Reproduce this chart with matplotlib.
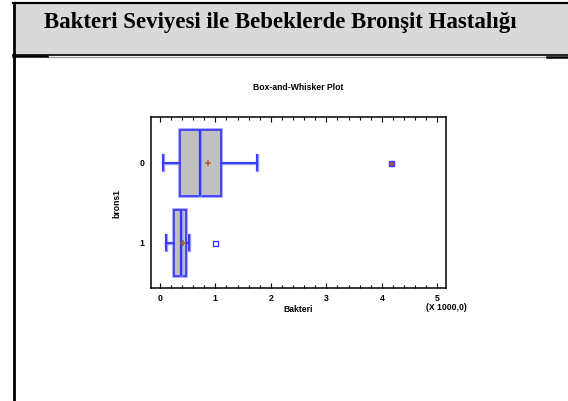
import matplotlib
matplotlib.use("Agg")
import matplotlib.pyplot as plt
from matplotlib.patches import Rectangle
from matplotlib.lines import Line2D
from matplotlib.ticker import MultipleLocator

# ---- data (Bakteri, x 1000) ----
groups = ["0", "1"]
q1 = [0.36, 0.26]
medians = [0.73, 0.38]
q3 = [1.11, 0.47]
whisker_lo = [0.06, 0.11]
whisker_hi = [1.75, 0.53]
means = [0.87, 0.42]
far_outliers = [[4.16], []]
outliers = [[], [0.99]]
x_ticks = [0, 1, 2, 3, 4, 5]

page_title = "Bakteri Seviyesi ile Bebeklerde Bronşit Hastalığı"
plot_title = "Box-and-Whisker Plot"
x_label = "Bakteri"
y_label = "brons1"
scale_note = "(X 1000,0)"

W, H = 568, 401
fig = plt.figure(figsize=(W / 100, H / 100), dpi=100)
fig.patch.set_facecolor("white")

def fx(px):
    return px / W

def fy(py):
    return 1 - py / H

# ---- slide header ----
fig.add_artist(Rectangle((fx(13), fy(55)), fx(W - 13), fy(3) - fy(55),
                         transform=fig.transFigure, facecolor="#d9d9d9",
                         edgecolor="none", zorder=0))
fig.add_artist(Line2D([fx(13), 1], [fy(3), fy(3)], transform=fig.transFigure,
                      color="black", lw=1.6))
fig.add_artist(Line2D([fx(13), 1], [fy(55), fy(55)], transform=fig.transFigure,
                      color="black", lw=1.2))
fig.add_artist(Line2D([fx(47), fx(547)], [fy(56.5), fy(56.5)], transform=fig.transFigure,
                      color="#a0a0a0", lw=1.0))
fig.add_artist(Line2D([fx(13), fx(47)], [fy(56), fy(56)], transform=fig.transFigure,
                      color="black", lw=1.8))
fig.add_artist(Line2D([fx(547), 1], [fy(56.5), fy(56.5)], transform=fig.transFigure,
                      color="black", lw=1.8))
fig.add_artist(Line2D([fx(13.5), fx(13.5)], [fy(2.5), 0], transform=fig.transFigure,
                      color="black", lw=2.0))
fig.text(fx(280), fy(22.5), page_title, ha="center", va="center",
         family="Liberation Serif", fontweight="bold", fontsize=16.5)

# ---- axes ----
ax = fig.add_axes([fx(151), fy(288), fx(446) - fx(151), fy(116.7) - fy(288)])
ax.set_xlim(-0.16, 5.155)
ax.set_ylim(1.566, -0.575)

stats = []
for i in range(len(groups)):
    stats.append(dict(label=groups[i], q1=q1[i], med=medians[i], q3=q3[i],
                      whislo=whisker_lo[i], whishi=whisker_hi[i],
                      mean=means[i], fliers=[]))

blue = "#3535ff"
halo = "#9a9aff"
# halo pass
ax.bxp(stats, positions=list(range(len(groups))), widths=0.82, capwidths=0.19,
       orientation="horizontal", patch_artist=True, showfliers=False, showmeans=False,
       boxprops=dict(facecolor="none", edgecolor=halo, lw=2.6),
       whiskerprops=dict(color=halo, lw=2.4), capprops=dict(color=halo, lw=2.4),
       medianprops=dict(color=halo, lw=2.4), manage_ticks=False)
ax.bxp(stats, positions=list(range(len(groups))), widths=0.82, capwidths=0.19,
       orientation="horizontal", patch_artist=True, showfliers=False, showmeans=True,
       boxprops=dict(facecolor="#c0c0c0", edgecolor=blue, lw=1.2),
       whiskerprops=dict(color=blue, lw=1.3), capprops=dict(color=blue, lw=1.3),
       medianprops=dict(color=blue, lw=1.6),
       meanprops=dict(marker="+", markeredgecolor="#b25a2a", markersize=5, mew=1.1),
       manage_ticks=False)

for i in range(len(groups)):
    if outliers[i]:
        ax.plot(outliers[i], [i] * len(outliers[i]), ls="none", marker="s",
                markersize=3.6, markerfacecolor="white", markeredgecolor=blue, mew=1.0)
    if far_outliers[i]:
        ax.plot(far_outliers[i], [i] * len(far_outliers[i]), ls="none", marker="s",
                markersize=3.6, markerfacecolor="#a05050", markeredgecolor=blue, mew=1.0)
        ax.plot(far_outliers[i], [i] * len(far_outliers[i]), ls="none", marker="+",
                markersize=3, markeredgecolor="#b25a2a", mew=0.9)

for s in ax.spines.values():
    s.set_linewidth(1.1)
    s.set_color("black")

ax.set_xticks(x_ticks)
ax.set_xticklabels([str(t) for t in x_ticks])
ax.xaxis.set_minor_locator(MultipleLocator(0.2))
ax.tick_params(axis="x", which="both", direction="in", top=True, bottom=True,
               labelsize=6.3, pad=4.5, width=0.8)
ax.tick_params(axis="x", which="major", length=3.5)
ax.tick_params(axis="x", which="minor", length=2.2)
ax.set_yticks(range(len(groups)))
ax.set_yticklabels(groups)
ax.tick_params(axis="y", which="both", length=0, labelsize=6.3, pad=5)
for lab in ax.get_xticklabels() + ax.get_yticklabels():
    lab.set_fontweight("bold")
    lab.set_family("Liberation Sans")

fig.text(fx(298.5), fy(87), plot_title, ha="center", va="center",
         family="Liberation Sans", fontweight="bold", fontsize=6.2)
fig.text(fx(298), fy(309), x_label, ha="center", va="center",
         family="Liberation Sans", fontweight="bold", fontsize=6.2)
fig.text(fx(446), fy(307.5), scale_note, ha="center", va="center",
         family="Liberation Sans", fontweight="bold", fontsize=6.2)
fig.text(fx(117), fy(204), y_label, ha="center", va="center", rotation=90,
         family="Liberation Sans", fontweight="bold", fontsize=6.2)

fig.savefig("out.png", dpi=100)
